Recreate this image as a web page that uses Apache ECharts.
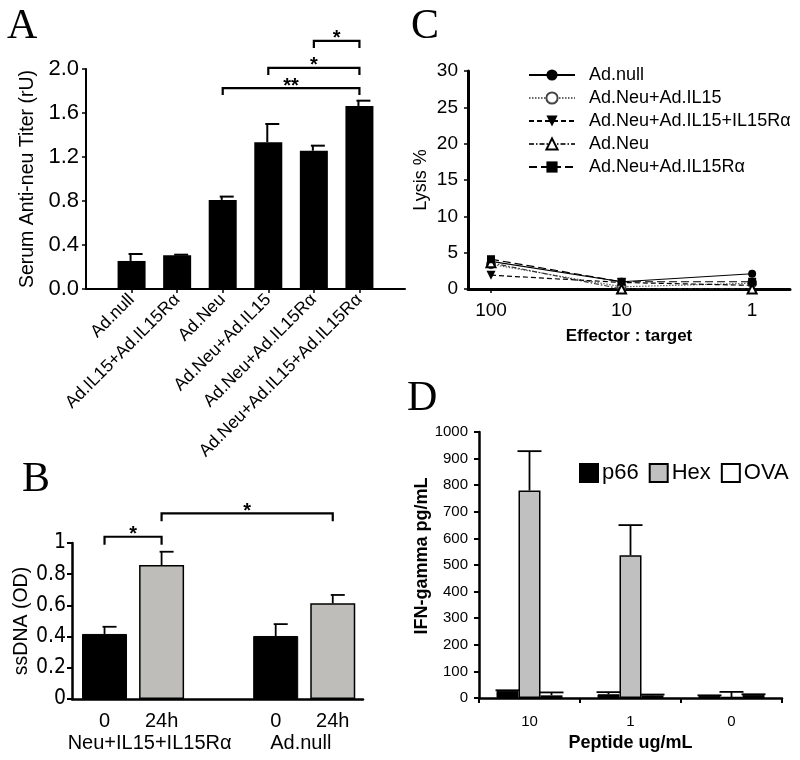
<!DOCTYPE html>
<html><head><meta charset="utf-8">
<script src="https://cdn.jsdelivr.net/npm/echarts@6/dist/echarts.min.js"></script>
<style>html,body{margin:0;padding:0;background:#fff}#c{width:800px;height:760px}</style>
</head><body><div id="c"></div>
<script>
// ---------- Panel A ----------
const aCategories = ['Ad.null','Ad.IL15+Ad.IL15R\u03b1','Ad.Neu','Ad.Neu+Ad.IL15','Ad.Neu+Ad.IL15R\u03b1','Ad.Neu+Ad.IL15+Ad.IL15R\u03b1'];
const aValues = [0.255, 0.306, 0.81, 1.334, 1.257, 1.664];
const aErrors = [0.063, 0.006, 0.03, 0.166, 0.046, 0.048];
const aBracketFrom = [4, 3, 2];
const aBracketTo = [5, 5, 5];
const aBracketLevel = [2.255, 2.01, 1.827];
const aBracketMarks = ['*', '*', '**'];

// ---------- Panel B ----------
const bGroups = ['Neu+IL15+IL15R\u03b1', 'Ad.null'];
const bTimes = ['0', '24h'];
const bTime0 = [0.417, 0.404];
const bTime0Err = [0.046, 0.076];
const bTime24 = [0.859, 0.613];
const bTime24Err = [0.085, 0.054];
const bBracketFrom = [0, 1];   // bar slots (group*3 + time)
const bBracketTo = [1, 4];
const bBracketLevel = [1.04, 1.19];
const bBracketMarks = ['*', '*'];

// ---------- Panel C ----------
const cRatios = ['100', '10', '1'];
const cNames = ['Ad.null', 'Ad.Neu+Ad.IL15', 'Ad.Neu+Ad.IL15+IL15R\u03b1', 'Ad.Neu', 'Ad.Neu+Ad.IL15R\u03b1'];
const cAdNull = [3.8, 1.0, 2.1];
const cNeuIL15 = [3.4, 0.3, 0.8];
const cNeuIL15IL15Ra = [1.9, 0.9, 0.5];
const cNeu = [3.6, 0.0, 0.0];
const cNeuIL15Ra = [4.1, 1.0, 1.0];

// ---------- Panel D ----------
const dDoses = ['10', '1', '0'];
const dNames = ['p66', 'Hex', 'OVA'];
const dP66 = [27, 14, 9];
const dP66Err = [2, 8, 1];
const dHex = [780, 537, 3];
const dHexErr = [148, 113, 20];
const dOva = [10, 10, 11];
const dOvaErr = [11, 3, 3];

const SANS = 'Arial, "Liberation Sans", Helvetica, sans-serif';
const SERIF = '"Times New Roman", "Liberation Serif", serif';

function errSeries(xi, yi, data, capL, capR, offset, lw) {
  return {
    type: 'custom', xAxisIndex: xi, yAxisIndex: yi, z: 5, silent: true,
    data: data,
    encode: { x: 0, y: [1, 2] },
    renderItem: function (params, api) {
      const x = api.value(0), v = api.value(1), e = api.value(2);
      const p0 = api.coord([x, v]);
      const p1 = api.coord([x, v + e]);
      const cx = p0[0] + offset;
      return {
        type: 'group', children: [
          { type: 'line', shape: { x1: cx, y1: p0[1], x2: cx, y2: p1[1] }, style: { stroke: '#000', lineWidth: lw } },
          { type: 'line', shape: { x1: cx - capL, y1: p1[1], x2: cx + capR, y2: p1[1] }, style: { stroke: '#000', lineWidth: lw } }
        ]
      };
    }
  };
}

function bracketSeries(xi, yi, from, to, level, marks, drop) {
  return {
    type: 'custom', xAxisIndex: xi, yAxisIndex: yi, z: 6, silent: true,
    data: from.map((f, i) => [f, to[i], level[i]]),
    encode: { x: [0, 1], y: 2 },
    renderItem: function (params, api) {
      const a = api.coord([api.value(0), api.value(2)]);
      const b = api.coord([api.value(1), api.value(2)]);
      return {
        type: 'group', children: [
          { type: 'polyline', shape: { points: [[a[0], a[1] + drop], [a[0], a[1]], [b[0], b[1]], [b[0], b[1] + drop]] },
            style: { stroke: '#000', lineWidth: 2.2, fill: null } },
          { type: 'text', style: { text: marks[params.dataIndex], x: (a[0] + b[0]) / 2, y: a[1] + 8,
            textAlign: 'center', textVerticalAlign: 'bottom', font: 'bold 20px ' + SANS, fill: '#000' } }
        ]
      };
    }
  };
}

const axisLineBlack = (w) => ({ show: true, onZero: false, lineStyle: { color: '#000', width: w } });

const option = {
  animation: false,
  backgroundColor: '#fff',
  textStyle: { fontFamily: SANS, color: '#000' },
  graphic: [
    { type: 'text', left: 7, top: 6, style: { text: 'A', font: '42px ' + SERIF, fill: '#000' } },
    { type: 'text', left: 22, top: 459, style: { text: 'B', font: '42px ' + SERIF, fill: '#000' } },
    { type: 'text', left: 411, top: 6, style: { text: 'C', font: '42px ' + SERIF, fill: '#000' } },
    { type: 'text', left: 407, top: 378, style: { text: 'D', font: '42px ' + SERIF, fill: '#000' } }
  ],
  grid: [
    { left: 86, top: 69, width: 319, height: 220 },
    { left: 72, top: 543, width: 291, height: 156 },
    { left: 468, top: 71, width: 322, height: 218 },
    { left: 479, top: 432, width: 303, height: 266 }
  ],
  legend: [
    {
      data: cNames, orient: 'vertical', left: 528, top: 66, padding: 0, itemWidth: 46, itemHeight: 14, itemGap: 5,
      textStyle: { fontSize: 18, fontFamily: SANS, color: '#000', padding: [0, 0, 0, 9] }
    },
    {
      data: dNames, orient: 'horizontal', left: 579, top: 462, padding: 0, itemWidth: 18, itemHeight: 18, itemGap: 10, icon: 'rect',
      textStyle: { fontSize: 22, fontFamily: SANS, color: '#000', padding: [0, 0, 0, -1] }
    }
  ],
  xAxis: [
    { // 0: A
      gridIndex: 0, type: 'value', min: -1, max: 6,
      axisLine: axisLineBlack(2), splitLine: { show: false },
      axisTick: { show: true, customValues: aCategories.map((_, i) => i), length: 4, lineStyle: { color: '#000', width: 1.5 } },
      axisLabel: { customValues: aCategories.map((_, i) => i), rotate: 45, formatter: (v) => aCategories[Math.round(v)],
        fontSize: 17.5, color: '#000', margin: 8 }
    },
    { // 1: B times
      gridIndex: 1, type: 'value', min: -0.57, max: 4.53,
      axisLine: axisLineBlack(2.5), splitLine: { show: false },
      axisTick: { show: false },
      axisLabel: { customValues: [0, 1, 3, 4], formatter: (v) => bTimes[Math.round(v) % 3], fontSize: 20, color: '#000', margin: 12 }
    },
    { // 2: B groups
      gridIndex: 1, type: 'value', min: -0.57, max: 4.53, position: 'bottom',
      axisLine: { show: false, onZero: false }, splitLine: { show: false }, axisTick: { show: false },
      axisLabel: { customValues: [0.79, 3.44], formatter: (v) => bGroups[v < 2 ? 0 : 1], fontSize: 20, color: '#000', margin: 34 }
    },
    { // 3: C
      gridIndex: 2, type: 'value', min: -0.176, max: 2.29,
      axisLine: axisLineBlack(3), splitLine: { show: false },
      axisTick: { show: true, customValues: [0, 1, 2], length: 4, lineStyle: { color: '#000', width: 1.5 } },
      axisLabel: { customValues: [0, 1, 2], formatter: (v) => cRatios[Math.round(v)], fontSize: 19, color: '#000', margin: 12 },
      name: 'Effector : target', nameLocation: 'middle', nameGap: 39,
      nameTextStyle: { fontSize: 17, fontWeight: 'bold', color: '#000' }
    },
    { // 4: D
      gridIndex: 3, type: 'category', data: dDoses, boundaryGap: true,
      axisLine: axisLineBlack(2.5),
      axisTick: { show: true, length: 5, lineStyle: { color: '#000', width: 2 } },
      axisLabel: { fontSize: 15, color: '#000', margin: 16 },
      name: 'Peptide ug/mL', nameLocation: 'middle', nameGap: 36,
      nameTextStyle: { fontSize: 18, fontWeight: 'bold', color: '#000' }
    }
  ],
  yAxis: [
    { // A
      gridIndex: 0, type: 'value', min: 0, max: 2.0, interval: 0.4,
      axisLine: axisLineBlack(2), splitLine: { show: false },
      axisTick: { show: true, length: 4, lineStyle: { color: '#000', width: 1.5 } },
      axisLabel: { formatter: (v) => v.toFixed(1), fontSize: 22, color: '#000', margin: 7 },
      name: 'Serum Anti-neu Titer (rU)', nameLocation: 'middle', nameGap: 48,
      nameTextStyle: { fontSize: 19.5, color: '#000' }
    },
    { // B
      gridIndex: 1, type: 'value', min: 0, max: 1, interval: 0.2,
      axisLine: axisLineBlack(2.5), splitLine: { show: false },
      axisTick: { show: true, length: 5, lineStyle: { color: '#000', width: 2 } },
      axisLabel: { formatter: (v) => (v === 0 || v === 1) ? String(v) : v.toFixed(1), fontSize: 21, color: '#000', margin: 6,
        fontFamily: '"Liberation Sans Narrow", "DejaVu Sans Condensed", Arial, sans-serif' },
      name: 'ssDNA (OD)', nameLocation: 'middle', nameGap: 36,
      nameTextStyle: { fontSize: 19.5, color: '#000' }
    },
    { // C
      gridIndex: 2, type: 'value', min: 0, max: 30, interval: 5,
      axisLine: axisLineBlack(3), splitLine: { show: false },
      axisTick: { show: true, length: 4, lineStyle: { color: '#000', width: 1.5 } },
      axisLabel: { fontSize: 19, color: '#000', margin: 10 },
      name: 'Lysis %', nameLocation: 'middle', nameGap: 38,
      nameTextStyle: { fontSize: 18, color: '#000' }
    },
    { // D
      gridIndex: 3, type: 'value', min: 0, max: 1000, interval: 100,
      axisLine: axisLineBlack(2.5), splitLine: { show: false },
      axisTick: { show: true, length: 5, lineStyle: { color: '#000', width: 2 } },
      axisLabel: { fontSize: 15, color: '#000', margin: 11, formatter: (v) => String(v) },
      name: 'IFN-gamma pg/mL', nameLocation: 'middle', nameGap: 46,
      nameTextStyle: { fontSize: 18, fontWeight: 'bold', color: '#000', padding: [0, 0, 0, 18] }
    }
  ],
  series: [
    // A
    { name: 'A', type: 'bar', xAxisIndex: 0, yAxisIndex: 0, barWidth: 28, itemStyle: { color: '#000' },
      data: aValues.map((v, i) => [i, v]) },
    errSeries(0, 0, aValues.map((v, i) => [i, v, aErrors[i]]), 2, 12, -1, 2),
    bracketSeries(0, 0, aBracketFrom, aBracketTo, aBracketLevel, aBracketMarks, 7),
    // B
    { name: 'B0', type: 'bar', xAxisIndex: 1, yAxisIndex: 1, barWidth: 45, barGap: '-100%',
      itemStyle: { color: '#000', borderColor: '#000', borderWidth: 1 },
      data: bTime0.map((v, g) => [g * 3, v]) },
    { name: 'B24', type: 'bar', xAxisIndex: 1, yAxisIndex: 1, barWidth: 45, barGap: '-100%',
      itemStyle: { color: '#bfbdba', borderColor: '#000', borderWidth: 1.5 },
      data: bTime24.map((v, g) => [g * 3 + 1, v]) },
    errSeries(1, 1, bTime0.map((v, g) => [g * 3, v, bTime0Err[g]]).concat(bTime24.map((v, g) => [g * 3 + 1, v, bTime24Err[g]])), 2, 12, 0, 1.8),
    bracketSeries(1, 1, bBracketFrom, bBracketTo, bBracketLevel, bBracketMarks, 8),
    // C
    { name: cNames[0], type: 'line', xAxisIndex: 3, yAxisIndex: 2, data: cAdNull.map((v, i) => [i, v]),
      symbol: 'circle', symbolSize: 8, itemStyle: { color: '#000' }, lineStyle: { color: '#000', width: 1.2, type: 'solid' } },
    { name: cNames[1], type: 'line', xAxisIndex: 3, yAxisIndex: 2, data: cNeuIL15.map((v, i) => [i, v]),
      symbol: 'emptyCircle', symbolSize: 8, itemStyle: { color: '#444', borderColor: '#444' }, lineStyle: { color: '#666', width: 1.2, type: [1.5, 1.5] } },
    { name: cNames[2], type: 'line', xAxisIndex: 3, yAxisIndex: 2, data: cNeuIL15IL15Ra.map((v, i) => [i, v]),
      symbol: 'triangle', symbolRotate: 180, symbolSize: 9, itemStyle: { color: '#000' }, lineStyle: { color: '#000', width: 1.2, type: [5, 3] } },
    { name: cNames[3], type: 'line', xAxisIndex: 3, yAxisIndex: 2, data: cNeu.map((v, i) => [i, v]),
      symbol: 'emptyTriangle', symbolSize: 9, itemStyle: { color: '#000', borderColor: '#000' }, lineStyle: { color: '#333', width: 1.2, type: [5, 2, 1.5, 2] } },
    { name: cNames[4], type: 'line', xAxisIndex: 3, yAxisIndex: 2, data: cNeuIL15Ra.map((v, i) => [i, v]),
      symbol: 'rect', symbolSize: 8, itemStyle: { color: '#000' }, lineStyle: { color: '#000', width: 1.2, type: [8, 4] } },
    // D
    { name: dNames[0], type: 'bar', xAxisIndex: 4, yAxisIndex: 3, barWidth: 22, barGap: '0%',
      itemStyle: { color: '#000', borderColor: '#000', borderWidth: 1 }, data: dP66 },
    { name: dNames[1], type: 'bar', xAxisIndex: 4, yAxisIndex: 3, barWidth: 22, barGap: '0%',
      itemStyle: { color: '#c0c0c0', borderColor: '#000', borderWidth: 1.5 }, data: dHex },
    { name: dNames[2], type: 'bar', xAxisIndex: 4, yAxisIndex: 3, barWidth: 22, barGap: '0%',
      itemStyle: { color: '#fff', borderColor: '#000', borderWidth: 1.5 }, data: dOva },
    errSeries(4, 3, dP66.map((v, i) => [i, v, dP66Err[i]]), 12, 12, -22, 1.8),
    errSeries(4, 3, dHex.map((v, i) => [i, v, dHexErr[i]]), 12, 12, 0, 1.8),
    errSeries(4, 3, dOva.map((v, i) => [i, v, dOvaErr[i]]), 12, 12, 22, 1.8)
  ]
};

const chart = echarts.init(document.getElementById('c'));
chart.setOption(option);
</script>
</body></html>
